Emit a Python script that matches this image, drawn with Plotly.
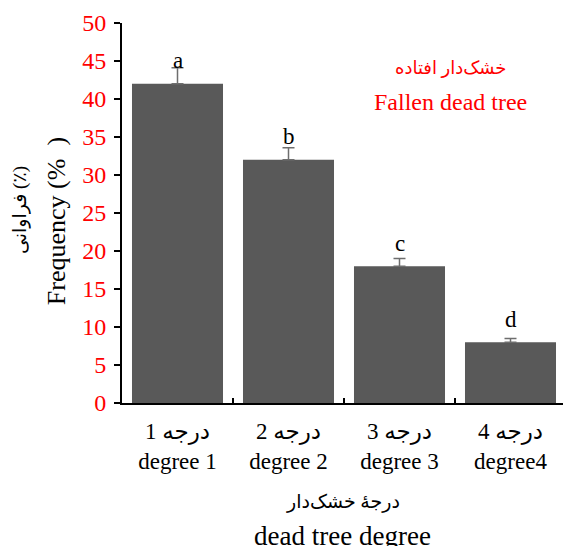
import plotly.graph_objects as go

# Frequency of fallen dead trees by decay degree
categories = ["درجه 1<br>degree 1", "درجه 2<br>degree 2", "درجه 3<br>degree 3", "درجه 4<br>degree4"]
frequency = [42, 32, 18, 8]
std_err = [2.1, 1.6, 1.0, 0.5]
group_letters = ["a", "b", "c", "d"]

serif = "Liberation Serif, Times New Roman, DejaVu Sans, serif"

fig = go.Figure()
fig.add_trace(go.Bar(
    x=categories,
    y=frequency,
    width=0.82,
    marker=dict(color="#595959", line=dict(width=0)),
    error_y=dict(type="data", array=std_err, symmetric=False, arrayminus=[0] * 4,
                 color="#6e6e6e", thickness=1.5, width=6),
))

# significance letters above each bar
for cat, v, letter in zip(categories, frequency, group_letters):
    fig.add_annotation(x=cat, y=v, text=letter, showarrow=False,
                       yanchor="middle", yshift=23,
                       font=dict(family=serif, size=23, color="black"))

fig.add_annotation(xref="paper", yref="paper", x=0.744, y=0.882, text="خشک‌دار افتاده",
                   xanchor="center", yanchor="middle",
                   showarrow=False, font=dict(family=serif, size=18, color="red"))
fig.add_annotation(xref="paper", yref="paper", x=0.744, y=0.792, text="Fallen dead tree",
                   xanchor="center", yanchor="middle",
                   showarrow=False, font=dict(family=serif, size=24, color="red"))

# y-axis title (two languages, rotated)
fig.add_annotation(xref="paper", yref="paper", x=-0.147, y=0.479, text="Frequency (%  )",
                   xanchor="center", yanchor="middle",
                   textangle=-90, showarrow=False, font=dict(family=serif, size=26, color="black"))
fig.add_annotation(xref="paper", yref="paper", x=-0.231, y=0.508, text="فراوانی (٪)",
                   xanchor="center", yanchor="middle",
                   textangle=-90, showarrow=False, font=dict(family=serif, size=19, color="black"))

# x-axis title (two languages)
fig.add_annotation(xref="paper", yref="paper", x=0.5, y=-0.26, text="درجهٔ خشک‌دار",
                   xanchor="center", yanchor="middle",
                   showarrow=False, font=dict(family=serif, size=19, color="black"))
fig.add_annotation(xref="paper", yref="paper", x=0.5, y=-0.35, text="dead tree degree",
                   xanchor="center", yanchor="middle",
                   showarrow=False, font=dict(family=serif, size=27, color="black"))

fig.update_layout(
    width=563, height=546,
    margin=dict(l=122, r=0, t=23, b=143),
    plot_bgcolor="white", paper_bgcolor="white",
    showlegend=False,
)
fig.update_xaxes(
    range=[-0.5, 3.473],
    showline=True, linecolor="black", linewidth=2,
    ticks="inside", tickson="boundaries", ticklen=5, tickwidth=2, tickcolor="black",
    tickfont=dict(family=serif, size=23, color="black"),
    ticklabelstandoff=6,
    showgrid=False,
)
fig.update_yaxes(
    range=[0, 50], dtick=5,
    showline=True, linecolor="black", linewidth=2,
    ticks="outside", ticklen=6, tickwidth=2, tickcolor="black",
    tickfont=dict(family=serif, size=24, color="red"),
    ticklabelstandoff=3,
    showgrid=False, zeroline=False,
)

fig.write_html("out.html")
